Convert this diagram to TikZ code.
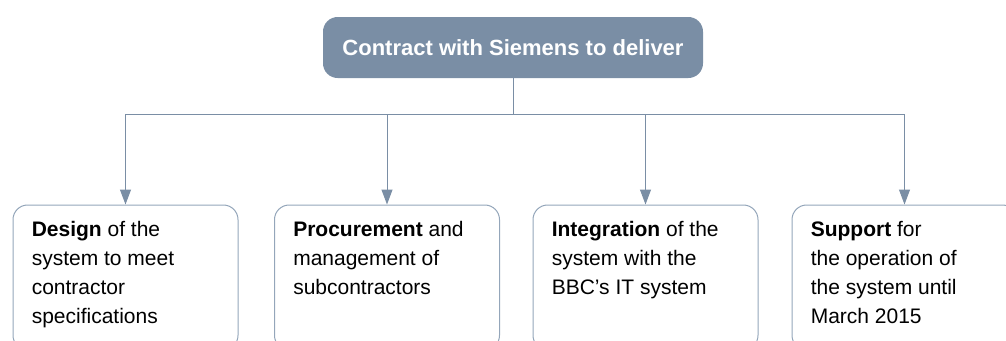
\documentclass[tikz,border=0pt]{standalone}
\usepackage{fontspec}
\setmainfont{Liberation Sans}
\usepackage{tikz}
\usetikzlibrary{arrows.meta,positioning}

\definecolor{slate}{HTML}{7A8EA5}
\definecolor{slateline}{HTML}{94A6BA}

\tikzset{
    headbox/.style={draw=none, fill=slate, rounded corners=11pt,
        minimum width=285pt, minimum height=45.75pt, inner sep=0pt,
        text=white, font=\fontsize{16.5}{20}\selectfont\bfseries},
    taskbox/.style={draw=slateline, line width=0.75pt, rounded corners=11pt,
        minimum width=168.75pt, minimum height=108.75pt},
    tasktext/.style={anchor=north west, inner sep=0pt, align=left,
        font=\fontsize{15.75}{21.75}\selectfont},
    feed/.style={draw=slate, line width=0.75pt},
    branch/.style={feed, -{Triangle[width=8.25pt,length=11.25pt]}}
}

\begin{document}
\begin{tikzpicture}[x=0.75pt, y=-0.75pt]
                    \useasboundingbox (0,0) rectangle (1006,340);
                    \clip (0,0) rectangle (1006,340);

                    \node[headbox] (contract) at (513,47.5) {Contract with Siemens to deliver};

                    \node[taskbox] (design) at (125.5,277.5) {};
                    \node[taskbox] (procure) at (387,277.5) {};
                    \node[taskbox] (integrate) at (645.5,277.5) {};
                    \node[taskbox] (support) at (904.5,277.5) {};

                    \node[tasktext] (designtxt) at ([xshift=14.25pt, yshift=-12.75pt]design.north west)
                        {\textbf{Design} of the\\system to meet\\contractor\\specifications};
                    \node[tasktext] (procuretxt) at ([xshift=14.25pt, yshift=-12.75pt]procure.north west)
                        {\textbf{Procurement} and\\management of\\subcontractors};
                    \node[tasktext] (integratetxt) at ([xshift=14.25pt, yshift=-12.75pt]integrate.north west)
                        {\textbf{Integration} of the\\system with the\\BBC’s IT system};
                    \node[tasktext] (supporttxt) at ([xshift=14.25pt, yshift=-12.75pt]support.north west)
                        {\textbf{Support} for\\the operation of\\the system until\\March 2015};

                    \coordinate (bus) at (513,114);
                    \draw[feed] (contract.south) -- (bus);

                    \draw[branch] (bus) -| (design.north);
                    \draw[branch] (bus) -| (procure.north);
                    \draw[branch] (bus) -| (integrate.north);
                    \draw[branch] (bus) -| (support.north);
                \end{tikzpicture}
\end{document}
